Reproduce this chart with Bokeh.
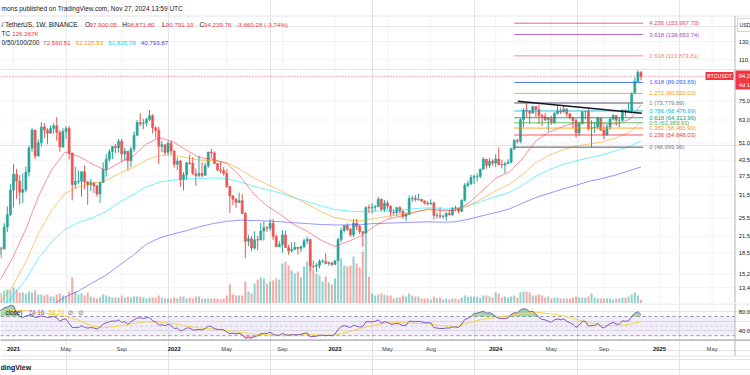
import math
import numpy as np
import pandas as pd
from bokeh.plotting import figure
from bokeh.layouts import column
from bokeh.models import Range1d, LinearScale
from bokeh.core.properties import value
from bokeh.embed import file_html
from bokeh.resources import INLINE

# ---------------------------------------------------------------- data
FIRST_WEEK = "2020-11-30"
FIRST_OPEN_K = 18.18

close_2020 = [19.36, 19.17, 23.45, 26.25, 33.0]
close_2021 = [38.15, 35.8, 32.3, 33.1, 38.9, 48.6, 57.4, 45.2, 51.0, 59.0, 57.35, 55.8, 58.2, 59.8, 56.2, 49.1,
              56.6, 58.25, 46.4, 34.7, 35.65, 35.8, 39.1, 35.6, 34.7, 35.3, 34.25, 31.8, 35.4, 39.85, 43.8, 47.0,
              49.3, 48.8, 51.75, 46.05, 47.25, 43.2, 48.2, 54.7, 61.55, 60.85, 61.3, 63.3, 65.5, 58.6, 57.3, 49.4,
              50.1, 46.7, 50.8, 47.3]
close_2022 = [41.85, 43.1, 36.3, 37.9, 42.4, 42.2, 38.35, 37.7, 38.4, 37.8, 41.25, 46.85, 46.4, 42.15, 39.7, 39.45,
              38.45, 34.05, 31.3, 30.3, 29.45, 29.9, 26.55, 20.55, 21.05, 19.3, 20.85, 20.8, 22.6, 23.3, 23.2, 24.3,
              21.5, 19.55, 19.95, 21.8, 19.4, 18.8, 19.05, 19.45, 19.25, 19.55, 20.65, 20.9, 16.35, 16.3, 16.45, 17.1,
              17.1, 16.75, 16.85, 16.6]
close_2023 = [17.15, 20.9, 22.7, 23.75, 22.95, 21.8, 24.3, 23.55, 22.45, 22.15, 28.05, 27.95, 28.15, 28.3, 30.3, 27.6,
              29.25, 28.45, 26.9, 26.75, 28.05, 27.1, 25.9, 26.35, 30.45, 30.6, 30.15, 30.25, 29.85, 29.25, 29.05, 29.3,
              26.1, 26.1, 25.85, 25.85, 26.55, 26.25, 27.95, 27.9, 27.1, 30.0, 34.5, 35.0, 37.05, 37.35, 37.45, 39.95,
              43.8, 41.4, 43.0, 42.3]
close_2024 = [43.95, 41.75, 41.6, 42.05, 42.6, 48.3, 52.15, 51.75, 63.15, 68.95, 68.4, 67.2, 71.3, 69.35, 65.65, 64.95,
              63.1, 63.9, 61.55, 66.95, 68.5, 67.75, 69.65, 66.65, 64.25, 62.65, 55.85, 60.8, 68.15, 68.25, 58.15, 58.7,
              58.9, 64.15, 57.3, 54.85, 59.15, 63.55, 65.65, 62.8, 62.85, 69.05, 67.95, 68.75, 80.35, 89.85, 97.90005,
              94.23976]

high_2020 = [19.92, 19.42, 24.3, 28.4, 34.8]
high_2021 = [41.95, 40.1, 37.85, 38.5, 40.95, 49.7, 58.35, 57.5, 52.65, 61.8, 61.2, 58.4, 60.0, 61.3, 64.85, 57.5,
             58.45, 59.5, 59.6, 46.65, 40.9, 39.5, 39.3, 41.3, 35.8, 36.6, 35.3, 34.6, 35.4, 42.6, 46.0, 48.15, 49.4,
             50.5, 52.9, 52.9, 48.85, 47.35, 49.25, 56.55, 62.95, 67.0, 63.7, 64.3, 69.0, 66.4, 59.3, 59.2, 51.95,
             50.2, 51.9, 52.1]
high_2022 = [47.55, 44.45, 43.5, 38.9, 42.65, 45.85, 44.75, 40.3, 45.4, 42.6, 42.35, 47.0, 48.2, 47.2, 42.4, 42.95,
             40.8, 40.0, 34.25, 31.4, 30.65, 32.2, 31.75, 26.9, 21.85, 21.55, 22.55, 21.65, 24.3, 24.65, 23.65, 25.2,
             25.2, 21.85, 20.55, 22.8, 22.65, 19.95, 20.35, 20.45, 19.5, 19.7, 21.1, 21.45, 21.05, 17.2, 16.8, 17.4,
             17.4, 18.4, 17.05, 16.95]
high_2023 = [17.25, 21.25, 23.35, 23.8, 24.25, 23.2, 25.25, 25.25, 23.9, 22.6, 28.4, 28.85, 29.2, 28.8, 31.0, 30.5,
             30.05, 29.85, 28.65, 27.65, 28.25, 28.45, 27.4, 26.8, 31.4, 31.3, 31.5, 31.8, 30.45, 29.9, 29.75, 30.25,
             29.65, 26.8, 28.15, 26.3, 27.0, 27.45, 28.05, 28.55, 28.0, 30.25, 35.2, 35.95, 38.0, 37.95, 38.45, 40.25,
             44.75, 44.0, 44.4, 43.8]
high_2024 = [45.9, 48.95, 43.6, 42.85, 43.85, 48.6, 52.8, 52.95, 64.0, 70.2, 73.78, 68.9, 71.75, 71.3, 72.8, 66.85,
             67.25, 64.75, 65.5, 67.7, 71.95, 70.6, 71.95, 70.2, 67.2, 64.5, 63.8, 61.4, 68.35, 68.5, 70.0, 62.75,
             61.85, 65.0, 64.5, 59.8, 60.65, 64.15, 66.5, 65.55, 64.5, 69.4, 69.5, 73.6, 81.5, 93.25, 99.6, 98.8718]

low_2020 = [18.0, 17.6, 19.0, 22.4, 25.9]
low_2021 = [28.1, 30.4, 28.85, 29.25, 32.3, 37.4, 47.0, 44.0, 44.95, 49.3, 53.3, 50.3, 55.5, 55.4, 52.0, 47.0, 48.8,
            53.0, 43.8, 30.0, 33.4, 34.9, 31.0, 33.3, 28.8, 32.7, 32.1, 31.05, 29.3, 35.2, 37.35, 42.8, 43.95, 46.3,
            46.6, 42.85, 43.35, 39.6, 40.75, 46.9, 54.4, 59.5, 57.8, 59.4, 62.3, 55.6, 53.25, 42.0, 46.8, 45.5, 45.55,
            45.7]
low_2022 = [40.6, 39.65, 34.0, 32.9, 36.25, 41.65, 38.0, 34.3, 37.15, 37.15, 37.6, 40.5, 44.2, 41.85, 39.2, 38.55,
            37.7, 33.7, 26.7, 28.65, 28.0, 29.3, 26.55, 17.6, 19.65, 18.75, 19.0, 18.9, 20.75, 20.7, 22.4, 22.65,
            20.75, 19.5, 19.55, 18.5, 19.3, 18.15, 18.5, 19.05, 18.2, 18.65, 19.25, 20.05, 15.6, 15.95, 15.5, 16.0,
            16.85, 16.6, 16.4, 16.35]
low_2023 = [16.55, 17.1, 20.4, 22.3, 22.55, 21.45, 21.35, 22.75, 21.95, 19.55, 21.9, 26.65, 26.55, 27.2, 28.2, 27.15,
            26.95, 27.65, 25.8, 26.1, 25.85, 26.5, 25.35, 24.8, 26.25, 29.5, 29.7, 29.95, 29.5, 28.85, 28.6, 28.7,
            25.15, 25.35, 25.35, 25.35, 24.9, 26.1, 26.0, 27.2, 26.55, 26.95, 29.65, 33.9, 34.5, 34.8, 35.65, 36.8,
            39.95, 40.2, 40.5, 41.3]
low_2024 = [40.75, 41.5, 40.3, 38.55, 41.9, 42.25, 47.7, 50.6, 50.9, 59.0, 64.55, 60.75, 66.6, 64.5, 60.65, 59.6,
            62.4, 56.55, 60.2, 60.75, 66.3, 66.6, 67.6, 65.05, 63.4, 58.4, 53.5, 54.25, 60.65, 63.45, 57.1, 49.0,
            56.1, 57.85, 57.2, 52.55, 54.6, 57.5, 62.7, 59.8, 58.9, 62.45, 65.05, 67.45, 66.85, 80.25, 89.4, 90.7911]

# weekly volume, thousands of BTC
vol_2020 = [430, 360, 470, 500, 470]
vol_2021 = [580, 500, 400, 400, 360, 430, 400, 470, 320, 320, 290, 320, 250, 250, 320, 360, 290, 250, 430, 940, 430,
            320, 360, 290, 400, 250, 215, 180, 215, 320, 290, 250, 215, 215, 215, 290, 215, 250, 215, 250, 250, 250,
            215, 180, 215, 215, 215, 290, 215, 180, 180, 180]
vol_2022 = [215, 180, 250, 250, 180, 215, 180, 250, 250, 180, 180, 180, 180, 180, 180, 145, 180, 290, 680, 320, 290,
            290, 290, 790, 430, 360, 720, 860, 940, 900, 720, 790, 830, 900, 860, 1440, 1510, 1370, 1190, 1080, 1150,
            940, 1330, 1510, 1870, 1220, 1080, 1010, 790, 970, 760, 680]
vol_2023 = [900, 1510, 1620, 1370, 1330, 1370, 1690, 1440, 1300, 1870, 2480, 970, 360, 290, 320, 360, 320, 290, 290,
            180, 215, 215, 290, 250, 360, 290, 250, 250, 180, 180, 180, 145, 250, 180, 215, 145, 180, 145, 180, 180,
            145, 215, 290, 250, 250, 250, 250, 215, 290, 290, 250, 215]
vol_2024 = [400, 360, 215, 250, 215, 250, 290, 215, 400, 430, 430, 400, 290, 290, 320, 290, 215, 250, 180, 215, 215,
            180, 180, 180, 180, 215, 250, 215, 215, 215, 250, 360, 215, 180, 180, 180, 180, 180, 145, 180, 180, 215,
            215, 250, 320, 400, 290, 126.267]

# weekly RSI(14)
rsi_2020 = [84, 83, 88, 90, 93]
rsi_2021 = [92, 78, 70, 68, 71, 73, 74, 68, 69, 71, 70, 68, 69, 70, 67, 60, 64, 65, 55, 47,
            47, 47, 51, 47, 46, 47, 46, 44, 48, 54, 57, 59, 61, 60, 63, 58, 59, 54, 59, 63,
            67, 67, 66, 67, 68, 61, 59, 52, 53, 51, 54, 51]
rsi_2022 = [45, 46, 40, 42, 46, 46, 42, 42, 43, 42, 45, 50, 49, 45, 43, 43, 42, 38, 34, 35, 34, 35, 32, 25, 26, 25,
            28, 30, 34, 35, 35, 37, 33, 31, 31, 35, 32, 31, 32, 32, 32, 33, 35, 36, 28, 28, 29, 31, 31, 30, 31, 30]
rsi_2023 = [33, 43, 49, 51, 49, 47, 52, 50, 48, 49, 59, 59, 59, 60, 63, 56, 59, 58, 54, 54, 56, 54, 51, 52, 60, 60,
            59, 60, 59, 57, 57, 57, 47, 46, 45, 45, 46, 46, 48, 48, 47, 54, 64, 66, 70, 76, 77, 79, 81, 77, 78, 75]
rsi_2024 = [70, 66, 66, 66, 67, 74, 78, 77, 84, 86, 85, 80, 81, 75, 68, 64, 63, 60, 58, 63, 65, 63, 65, 60, 57, 54,
            47, 52, 60, 60, 50, 51, 51, 56, 49, 46, 51, 55, 58, 54, 54, 61, 60, 61, 70, 77, 80, 74.16]

# moving averages read at month starts (+ last bar), thousands of USDT
ma_last_date = "2024-11-25"
ma20_k = [14.0, 17.5, 23.0, 31.0, 40.0, 46.8, 45.0, 42.0, 39.5, 42.5, 45.0, 50.5, 53.5,
          51.5, 47.5, 44.5, 43.8, 42.3, 37.5, 32.0, 28.5, 26.3, 24.0, 22.5, 20.8,
          19.6, 20.5, 21.6, 23.6, 25.2, 25.9, 26.9, 27.7, 27.3, 27.3, 29.3, 32.7,
          36.8, 39.0, 44.0, 52.0, 56.3, 59.3, 61.5, 61.5, 60.8, 60.8, 63.5,
          72.56051]
ma50_k = [11.5, 13.5, 17.0, 22.0, 27.5, 32.0, 34.0, 35.0, 36.0, 38.5, 40.5, 43.5, 45.5,
          45.5, 44.5, 43.5, 43.3, 42.5, 40.0, 37.0, 34.8, 32.8, 30.8, 29.0, 27.0,
          25.6, 25.0, 24.8, 25.3, 25.9, 26.3, 26.9, 27.5, 27.5, 27.5, 28.5, 30.5,
          32.8, 34.8, 38.0, 42.5, 45.5, 47.8, 49.5, 50.5, 51.5, 53.5, 56.5,
          62.12553]
ma100_k = [10.8, 12.3, 14.5, 17.5, 20.5, 23.0, 24.5, 25.5, 27.0, 29.5, 31.5, 34.0, 35.5,
           36.2, 36.5, 36.7, 36.9, 36.7, 35.5, 34.2, 33.2, 32.0, 30.8, 29.6, 28.5,
           27.6, 27.2, 27.0, 27.1, 27.3, 27.4, 27.8, 28.0, 27.9, 27.9, 28.6, 29.8,
           31.0, 32.3, 34.5, 37.5, 39.8, 41.8, 43.2, 44.5, 45.8, 47.5, 49.5,
           51.82578]
ma200_k = [8.0, 8.8, 9.6, 10.5, 11.4, 12.3, 13.0, 14.0, 15.0, 16.5, 18.0, 20.0, 21.2,
           22.0, 22.7, 23.5, 24.2, 24.7, 25.0, 24.9, 24.8, 24.6, 24.4, 24.2, 24.0,
           23.9, 23.9, 24.0, 24.2, 24.3, 24.4, 24.5, 24.6, 24.5, 24.6, 25.2, 26.0,
           26.8, 27.7, 29.2, 30.8, 32.0, 33.3, 34.5, 35.8, 36.8, 38.0, 39.6,
           40.79387]
rsi_ma = [80, 82, 82, 78, 75, 71, 62, 50, 47, 50, 55, 59, 58,
          55, 50, 46, 44, 41, 37, 34, 32, 31, 32, 33, 31,
          31, 38, 45, 52, 57, 57, 56, 55, 51, 49, 57, 64,
          68, 72, 76, 79, 76, 72, 64, 56, 51, 51, 54,
          58.74]

fib_ratios = ["4.236", "3.618", "2.618", "1.618", "1.272", "1", "0.786", "0.618", "0.5", "0.382", "0.236", "0"]
fib_prices = [153967.73, 138653.74, 113873.81, 89093.89, 80520.03, 73779.89, 68476.99, 64313.96, 61389.93,
              58465.90, 54848.03, 48999.96]
fib_colors = ["#ec407a", "#ab47bc", "#f77c80", "#2962ff", "#ff9800", "#787b86", "#00bcd4", "#089981", "#4caf50",
              "#ff9800", "#f23645", "#787b86"]
fib_from, fib_to, fib_label_at = "2024-02-12", "2024-11-30", "2024-12-14"
trend_dates = ["2024-02-20", "2024-11-27"]
trend_prices = [74900, 67100]

price_ticks = [130000, 110000, 75000, 63000, 51000, 43500, 37500, 31500, 25500, 21500, 18500, 15200, 13400]
rsi_ticks = [80, 40]
time_tick_dates = ["2021-01-04", "2021-05-03", "2021-09-06", "2022-01-03", "2022-05-02", "2022-09-05",
                   "2023-01-02", "2023-05-01", "2023-08-07", "2024-01-01", "2024-05-06", "2024-09-02",
                   "2025-01-06", "2025-05-05"]
time_tick_labels = ["2021", "May", "Sep", "2022", "May", "Sep", "2023", "May", "Aug", "2024", "May", "Sep",
                    "2025", "May"]

# ---------------------------------------------------------------- assembly
closes = np.array(close_2020 + close_2021 + close_2022 + close_2023 + close_2024) * 1000.0
highs = np.array(high_2020 + high_2021 + high_2022 + high_2023 + high_2024) * 1000.0
lows = np.array(low_2020 + low_2021 + low_2022 + low_2023 + low_2024) * 1000.0
opens = np.concatenate([[FIRST_OPEN_K * 1000.0], closes[:-1]])
volumes = np.array(vol_2020 + vol_2021 + vol_2022 + vol_2023 + vol_2024, dtype=float)
rsi = np.array(rsi_2020 + rsi_2021 + rsi_2022 + rsi_2023 + rsi_2024, dtype=float)


def to_ms(dates):
    idx = pd.DatetimeIndex(pd.to_datetime(list(dates)))
    return ((idx - pd.Timestamp("1970-01-01")) / pd.Timedelta(milliseconds=1)).to_numpy()


week_ms = to_ms(pd.date_range(FIRST_WEEK, periods=len(closes), freq="7D"))
ma_dates = list(pd.date_range("2020-12-01", "2024-11-01", freq="MS")) + [pd.Timestamp(ma_last_date)]
ma_ms = to_ms(ma_dates)

# ---------------------------------------------------------------- layout constants
W, H_MAIN, H_LOW = 750, 303, 72
AXIS_X = 734.5
DAY_MS = 86400000.0
PX_PER_DAY = 0.44157
x_anchor = to_ms(["2021-01-04"])[0]
x_start = x_anchor - 13.0 / PX_PER_DAY * DAY_MS
x_end = x_start + W / PX_PER_DAY * DAY_MS
P_ANCHOR, Y_ANCHOR, PX_PER_LN = 49000.0, 146.7, 108.3
p_top = P_ANCHOR * math.exp(Y_ANCHOR / PX_PER_LN)
p_bot = P_ANCHOR * math.exp(-(H_MAIN - Y_ANCHOR) / PX_PER_LN)
VOL_PER_PX = 36.0
RSI70_PX, RSI_PX_PER_UNIT = 13.0, 0.48
rsi_top = 70 + RSI70_PX / RSI_PX_PER_UNIT
rsi_bot = 70 - (H_LOW - RSI70_PX) / RSI_PX_PER_UNIT
BAR_W = 4.6 * DAY_MS
SCALE_CHARS = 4   # the price scale is only 15 px wide: it shows the first characters of each label

UP, DOWN = "#26a69a", "#ef5350"
DARK = "#131722"
RED = "#f23645"
GRID = "#f0f3fa"
FONT = "Liberation Sans"

xr = Range1d(x_start, x_end)
common = dict(toolbar_location=None, output_backend="svg", min_border=0, min_border_left=0,
              min_border_right=0, min_border_top=0, min_border_bottom=0, outline_line_color=None,
              background_fill_color="white", border_fill_color="white", title=None,
              x_axis_location=None, y_axis_location=None)


def put_text(fig, xs, ys, texts, color=DARK, size="6px", align="left", baseline="middle", style="normal",
             xname="px", yname="px", alpha=1.0):
    fig.text(x=list(xs), y=list(ys), text=list(texts), text_color=color, text_font=value(FONT),
             text_font_size=value(size), text_align=align, text_baseline=baseline, text_font_style=style,
             text_alpha=alpha, x_range_name=xname, y_range_name=yname)


# ---------------------------------------------------------------- main pane
pA = figure(width=W, height=H_MAIN, x_range=xr, y_range=Range1d(p_bot, p_top), y_axis_type="log", **common)
pA.extra_x_ranges = {"px": Range1d(0, W)}
pA.extra_x_scales = {"px": LinearScale()}
pA.extra_y_ranges = {"px": Range1d(H_MAIN, 0), "vol": Range1d(0, H_MAIN * VOL_PER_PX)}
pA.extra_y_scales = {"px": LinearScale(), "vol": LinearScale()}

tick_ms = to_ms(time_tick_dates)
n = len(price_ticks)
pA.segment(x0=[0] * n, x1=[AXIS_X] * n, y0=price_ticks, y1=price_ticks, x_range_name="px",
           line_color=GRID, line_width=1)
pA.segment(x0=tick_ms, x1=tick_ms, y0=[16] * len(tick_ms), y1=[H_MAIN] * len(tick_ms), y_range_name="px",
           line_color=GRID, line_width=1)
pA.segment(x0=[0], x1=[W], y0=[15.5], y1=[15.5], x_range_name="px", y_range_name="px",
           line_color="#e0e3eb", line_width=1)

up = closes >= opens
cols = np.where(up, UP, DOWN).tolist()
pA.vbar(x=week_ms, width=BAR_W, top=volumes, bottom=0, y_range_name="vol", fill_color=cols,
        fill_alpha=0.5, line_color=None)

pA.segment(x0=week_ms, x1=week_ms, y0=lows, y1=highs, line_color=cols, line_width=1)
pA.vbar(x=week_ms, width=BAR_W, top=np.maximum(opens, closes), bottom=np.minimum(opens, closes),
        fill_color=cols, line_color=cols, line_width=0.6)

for vals, col in [(ma200_k, "#3f3fff"), (ma100_k, "#00e5ff"), (ma50_k, "#ff9800"), (ma20_k, "#f23645")]:
    pA.line(x=ma_ms, y=np.array(vals) * 1000.0, line_color=col, line_alpha=0.55, line_width=1)

fx0, fx1 = to_ms([fib_from])[0], to_ms([fib_to])[0]
fwidths = [1.5 if r in ("0", "1") else 1 for r in fib_ratios]
pA.segment(x0=[fx0] * len(fib_prices), x1=[fx1] * len(fib_prices), y0=fib_prices, y1=fib_prices,
           line_color=fib_colors, line_width=fwidths, line_alpha=0.85)
flab_x = to_ms([fib_label_at])[0]
put_text(pA, [flab_x] * len(fib_prices), fib_prices,
         [f"{r} ({p:,.2f})" for r, p in zip(fib_ratios, fib_prices)], color=fib_colors, size="5.9px",
         xname="default", yname="default")

pA.line(x=to_ms(trend_dates), y=trend_prices, line_color=DARK, line_width=1.5)

last_close = closes[-1]
pA.segment(x0=[0], x1=[AXIS_X], y0=[last_close], y1=[last_close], x_range_name="px",
           line_color=RED, line_dash="1 2", line_width=1, line_alpha=0.8)

# header
HS = "6.5px"
NS = "6.2px"
put_text(pA, [1], [7.5], ["mons published on TradingView.com, Nov 27, 2024 13:59 UTC"], size=HS)
put_text(pA, [1], [24], ["/ TetherUS, 1W, BINANCE"], size=HS)
put_text(pA, [84.5, 121.7, 161.5, 199], [24] * 4, ["O", "H", "L", "C"], size=HS)
put_text(pA, [89, 126.5, 165.3, 203.5, 235.7], [24] * 5,
         [f"{opens[-1]:,.2f}", f"{highs[-1]:,.2f}", f"{lows[-1]:,.2f}", f"{closes[-1]:,.2f}",
          "-3,660.28 (-3.74%)"], color=RED, size=NS)
put_text(pA, [1], [32.5], ["TC"], size=HS)
put_text(pA, [11.7], [32.5], [f"{volumes[-1]:.3f}K"], color=RED, size=NS)
put_text(pA, [1], [42.3], ["0/50/100/200"], size=HS)
put_text(pA, [42.7, 75.2, 107.7, 140.2], [42.3] * 4,
         [f"{v[-1] * 1000:,.2f}" for v in (ma20_k, ma50_k, ma100_k, ma200_k)],
         color=["#f23645", "#ff9800", "#00d4e6", "#3d3dff"], size=NS)

# right price scale (narrow, as in the screenshot)
pA.segment(x0=[AXIS_X], x1=[AXIS_X], y0=[15.5], y1=[H_MAIN], x_range_name="px", y_range_name="px",
           line_color="#b2b5be", line_width=1)
put_text(pA, [738.3] * n, price_ticks, [f"{v:,.2f}"[:SCALE_CHARS] for v in price_ticks], size="5.8px",
         yname="default")
pA.quad(left=[737], right=[762], top=[18], bottom=[31], x_range_name="px", y_range_name="px",
        fill_color="white", line_color="#d1d4dc", line_width=1)
put_text(pA, [739], [24.5], ["USD"], size="5.2px")
pA.quad(left=[735], right=[W], top=[70], bottom=[89], x_range_name="px", y_range_name="px",
        fill_color=RED, line_color=None)
put_text(pA, [738.3], [75.5], [f"{last_close:,.2f}"[:SCALE_CHARS]], color="white", size="5.8px")
put_text(pA, [738.3], [84], ["4d 10h"[:SCALE_CHARS]], color="white", size="5.8px")
pA.quad(left=[705], right=[733], top=[71.5], bottom=[79.5], x_range_name="px", y_range_name="px",
        fill_color=RED, line_color=None)
put_text(pA, [719], [75.6], ["BTCUSDT"], color="white", size="5.3px", align="center")

# ---------------------------------------------------------------- RSI pane + time scale
pB = figure(width=W, height=H_LOW, x_range=xr, y_range=Range1d(rsi_bot, rsi_top), **common)
pB.extra_x_ranges = {"px": Range1d(0, W)}
pB.extra_x_scales = {"px": LinearScale()}
pB.extra_y_ranges = {"px": Range1d(H_LOW, 0)}
pB.extra_y_scales = {"px": LinearScale()}

pB.quad(left=[0], right=[AXIS_X], bottom=[30], top=[70], x_range_name="px", fill_color="#7e57c2",
        fill_alpha=0.1, line_color=None)
pB.segment(x0=tick_ms, x1=tick_ms, y0=[0] * len(tick_ms), y1=[36] * len(tick_ms), y_range_name="px",
           line_color=GRID, line_width=1)
pB.segment(x0=[0, 0], x1=[AXIS_X, AXIS_X], y0=[70, 30], y1=[70, 30], x_range_name="px",
           line_color="#787b86", line_dash="3 3", line_width=1, line_alpha=0.8)
pB.segment(x0=[0], x1=[AXIS_X], y0=[50], y1=[50], x_range_name="px",
           line_color="#787b86", line_dash="2 3", line_width=1, line_alpha=0.35)

pB.varea(x=week_ms, y1=np.full(len(rsi), 70.0), y2=np.maximum(rsi, 70.0), fill_color="#4caf50", fill_alpha=0.5)
pB.varea(x=week_ms, y1=np.minimum(rsi, 30.0), y2=np.full(len(rsi), 30.0), fill_color=RED, fill_alpha=0.35)
pB.line(x=ma_ms, y=rsi_ma, line_color="#f9d54a", line_width=1)
pB.line(x=week_ms, y=rsi, line_color="#7e57c2", line_width=1)

put_text(pB, [5], [9], ["close)"], size="6.3px")
put_text(pB, [28, 48], [9, 9], [f"{rsi[-1]:.2f}", f"{rsi_ma[-1]:.2f}"], color=["#7e57c2", "#f2c618"],
         size="6.3px")
pB.text(x=[70, 80.5], y=[9, 9], text=["\u2298", "\u2298"], text_color="#787b86",
        text_font=value("DejaVu Sans"), text_font_size=value("7px"), text_align="center",
        text_baseline="middle", x_range_name="px", y_range_name="px")

pB.segment(x0=[0], x1=[W], y0=[0.5], y1=[0.5], x_range_name="px", y_range_name="px",
           line_color="#e0e3eb", line_width=1)
pB.segment(x0=[0], x1=[W], y0=[36.5], y1=[36.5], x_range_name="px", y_range_name="px",
           line_color="#9598a1", line_width=1)
pB.segment(x0=[0], x1=[W], y0=[52.5], y1=[52.5], x_range_name="px", y_range_name="px",
           line_color="#e0e3eb", line_width=1)
pB.segment(x0=[AXIS_X], x1=[AXIS_X], y0=[0], y1=[52], x_range_name="px", y_range_name="px",
           line_color="#b2b5be", line_width=1)
put_text(pB, [738.3] * len(rsi_ticks), rsi_ticks, [f"{v:.2f}"[:SCALE_CHARS] for v in rsi_ticks], size="5.8px",
         yname="default")

years = [(d, l) for d, l in zip(tick_ms, time_tick_labels) if l.isdigit()]
months = [(d, l) for d, l in zip(tick_ms, time_tick_labels) if not l.isdigit()]
put_text(pB, [d for d, _ in years], [45] * len(years), [l for _, l in years], size="5.9px", align="center",
         style="bold", xname="default")
put_text(pB, [d for d, _ in months], [45] * len(months), [l for _, l in months], size="5.8px",
         align="center", xname="default", color="#434651")
put_text(pB, [0], [63.5], ["dingView"], size="7px", style="bold")

layout = column(pA, pB, spacing=0)
open("out.html", "w").write(file_html(layout, INLINE))
